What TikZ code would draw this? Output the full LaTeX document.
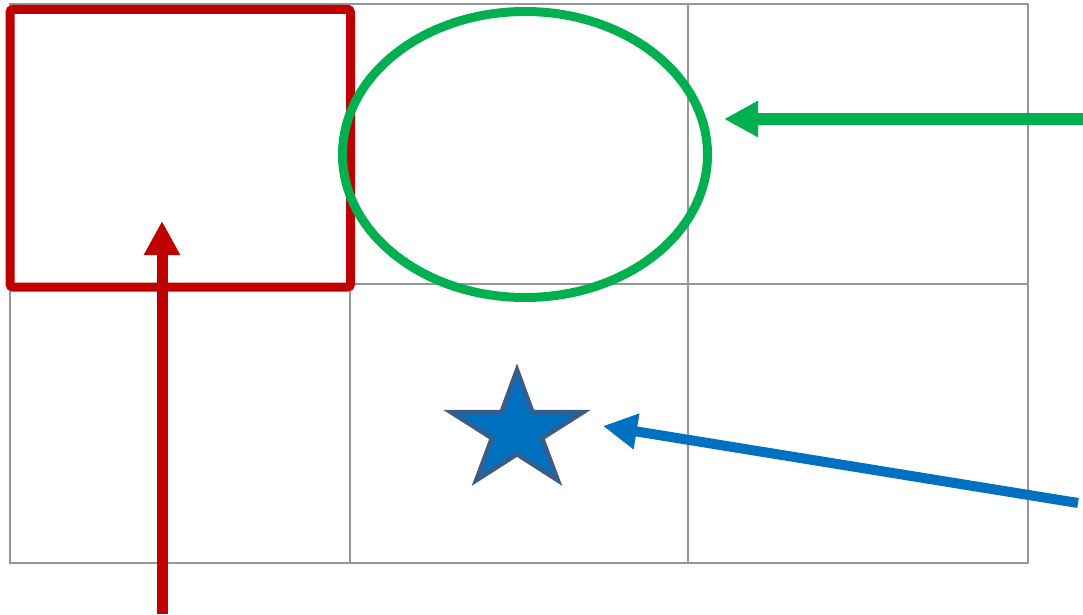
\documentclass[tikz,border=0pt]{standalone}
\usetikzlibrary{arrows.meta}
\definecolor{pptred}{RGB}{192,0,0}
\definecolor{pptgreen}{RGB}{0,176,80}
\definecolor{pptblue}{RGB}{0,112,192}
\definecolor{starline}{RGB}{56,93,138}
\definecolor{gridgray}{RGB}{150,150,150}
\tikzset{
  gridline/.style={draw=gridgray, line width=1.5pt},
  fatarrow/.style={line width=11pt, -{Triangle[length=34pt,width=34pt]}},
}
\begin{document}
\begin{tikzpicture}[x=1pt,y=-1pt]
\useasboundingbox (0,0) rectangle (1083,615);
% grid
\draw[gridline] (10,4) rectangle (1028,563);
\draw[gridline] (350,4) -- (350,563);
\draw[gridline] (688,4) -- (688,563);
\draw[gridline] (10,284) -- (1028,284);
% red rectangle
\draw[pptred, line width=9pt, rounded corners=3pt] (10,9.5) rectangle (350.5,287);
% green ellipse
\draw[pptgreen, line width=9pt] (525,154.5) ellipse [x radius=182.5, y radius=143];
% star
\filldraw[fill=pptblue, draw=starline, line width=4.5pt, line join=miter, miter limit=10]
  (517,370) -- (501.5,412.2) -- (451,412.2) -- (491.9,438.2) -- (476.2,480.3)
  -- (517,454.2) -- (557.8,480.3) -- (542.1,438.2) -- (583,412.2) -- (532.5,412.2) -- cycle;
% arrows
\coordinate (rs) at (162,614);
\coordinate (re) at (162,221);
\coordinate (gs) at (1083,119);
\coordinate (ge) at (724,119);
\coordinate (bs) at (1078,503);
\coordinate (be) at (603,426);
\draw[fatarrow, pptred] (rs) -- (re);
\draw[fatarrow, pptgreen] (gs) -- (ge);
\draw[fatarrow, pptblue, line width=10pt] (bs) -- (be);
\end{tikzpicture}
\end{document}
